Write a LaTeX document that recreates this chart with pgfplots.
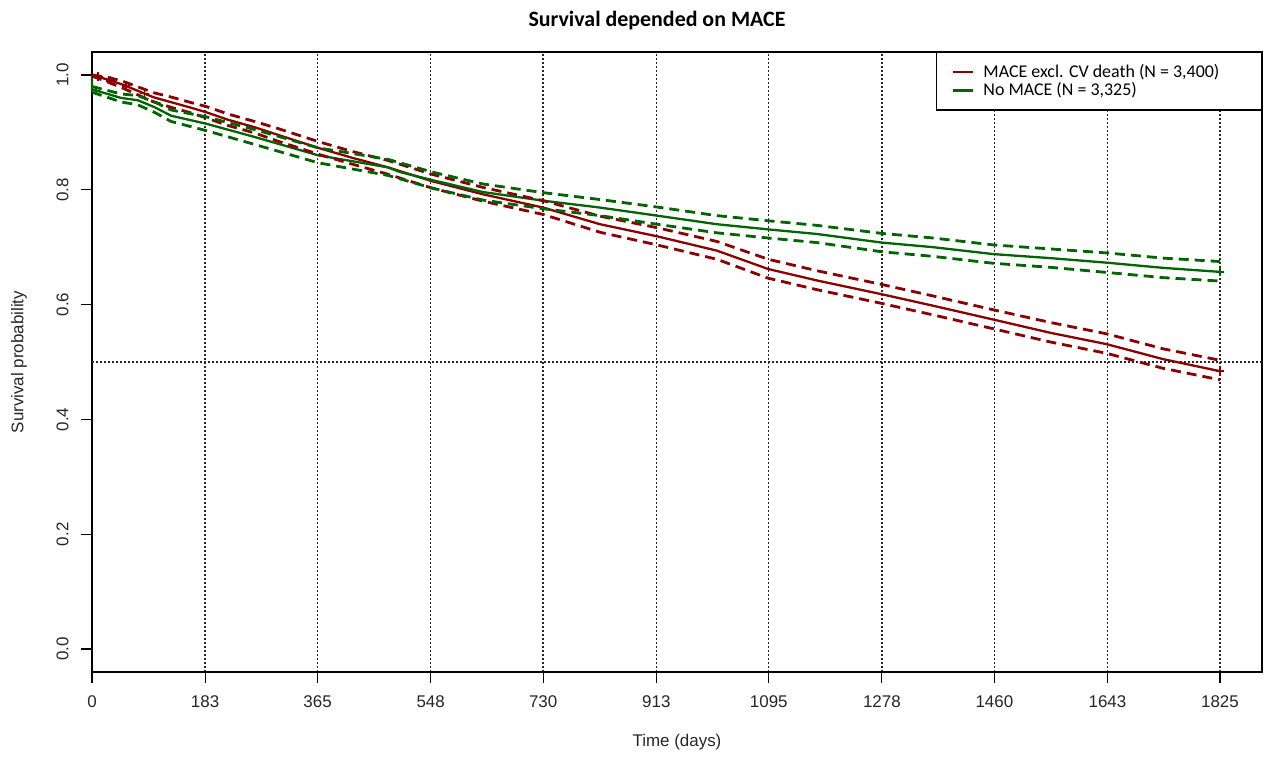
\documentclass[border=0pt]{standalone}
\usepackage{fontspec}
\setmainfont{Liberation Sans}
\newfontfamily\calibri{Carlito}
\usepackage{pgfplots}
\pgfplotsset{compat=1.18}

\definecolor{kmred}{HTML}{8B0000}
\definecolor{kmgreen}{HTML}{006400}

\begin{document}
\begin{tikzpicture}
\begin{axis}[
    name=ax,
    scale only axis,
    width=585bp, height=310bp,
    xmin=0, xmax=1893, ymin=-0.04, ymax=1.04,
    xtick={0,183,365,548,730,913,1095,1278,1460,1643,1825},
    xticklabels={0,183,365,548,730,913,1095,1278,1460,1643,1825},
    ytick={0,0.2,0.4,0.6,0.8,1.0},
    yticklabels={0.0,0.2,0.4,0.6,0.8,1.0},
    xtick pos=bottom, ytick pos=left,
    tick align=outside,
    major tick length=5.5bp,
    tick style={black, line width=0.6bp},
    axis line style={line width=0.6bp},
    ticklabel style={font=\fontsize{8.5}{10}\selectfont, text=black!85},
    xticklabel style={anchor=north, inner sep=0pt},
    xticklabel shift=6bp,
    yticklabel style={rotate=90, anchor=south, inner sep=0pt},
    yticklabel shift=6bp,
    xmajorgrids,
    major grid style={black!85, line width=0.7bp, dash pattern=on 0.8bp off 1.2bp},
    xlabel={Time (days)},
    ylabel={Survival probability},
    label style={font=\fontsize{8.5}{10}\selectfont, text=black!85},
    xlabel style={at={(axis description cs:0.5,-0.1129)}, anchor=center},
    ylabel style={at={(axis description cs:-0.0624,0.5)}, anchor=center},
    title={Survival depended on MACE},
    every axis title shift=0pt,
    title style={at={(axis description cs:0.4829,1.0500)}, anchor=center,
                 font=\calibri\bfseries\fontsize{11}{13}\selectfont},
    legend cell align=left,
    legend style={at={(1,1)}, anchor=north east, draw=black, line width=0.6bp,
                  font=\calibri\fontsize{9}{10.3}\selectfont,
                  inner xsep=8bp, inner ysep=5.1bp,
                  nodes={inner xsep=0pt, inner ysep=0.6bp},
                  /tikz/every odd column/.append style={column sep=4.5bp}},
    legend image code/.code={\draw[#1, solid] (0bp,0bp) -- (10bp,0bp);},
    clip=false,
]
% median reference line
\addplot[forget plot, black!85, line width=0.7bp, dash pattern=on 0.8bp off 1.2bp]
  coordinates {(0,0.5)(1893,0.5)};

% MACE excl. CV death
\addplot[kmred, line width=1.15bp] coordinates {
(0,1.000)(25,0.992)(50,0.983)(75,0.972)(100,0.961)(130,0.952)(160,0.943)(185,0.935)
(220,0.922)(263,0.909)(300,0.896)(366,0.873)(420,0.856)(479,0.839)(550,0.815)(633,0.792)
(730,0.769)(822,0.740)(914,0.719)(1011,0.694)(1094,0.662)(1173,0.642)(1278,0.618)
(1361,0.598)(1458,0.574)(1550,0.551)(1642,0.531)(1733,0.505)(1825,0.484)};
\addlegendentry{MACE excl. CV death (N = 3,400)\hspace*{13bp}}

% No MACE
\addplot[kmgreen, line width=1.15bp] coordinates {
(0,1.000)(0,0.975)(25,0.967)(47,0.960)(74,0.956)(101,0.944)(128,0.929)(185,0.915)
(263,0.892)(366,0.860)(420,0.850)(479,0.839)(498,0.831)(550,0.817)(633,0.796)(730,0.781)
(822,0.769)(914,0.755)(1011,0.740)(1094,0.731)(1173,0.723)(1278,0.708)(1361,0.700)
(1458,0.688)(1550,0.681)(1642,0.673)(1733,0.664)(1825,0.657)};
\addlegendentry{No MACE (N = 3,325)}

% confidence bands
\addplot[forget plot, kmred, line width=1.4bp, dash pattern=on 5bp off 3bp] coordinates {
(0,1.000)(25,0.996)(50,0.989)(75,0.979)(100,0.969)(130,0.961)(160,0.952)(185,0.945)
(220,0.932)(263,0.919)(300,0.907)(366,0.884)(420,0.867)(479,0.851)(550,0.827)(633,0.804)
(730,0.781)(822,0.754)(914,0.734)(1011,0.710)(1094,0.679)(1173,0.659)(1278,0.635)
(1361,0.615)(1458,0.591)(1550,0.569)(1642,0.549)(1733,0.523)(1825,0.503)};
\addplot[forget plot, kmred, line width=1.4bp, dash pattern=on 5bp off 3bp] coordinates {
(0,0.998)(25,0.988)(50,0.977)(75,0.965)(100,0.953)(130,0.943)(160,0.934)(185,0.925)
(220,0.912)(263,0.899)(300,0.885)(366,0.862)(420,0.845)(479,0.827)(550,0.803)(633,0.780)
(730,0.757)(822,0.726)(914,0.704)(1011,0.679)(1094,0.646)(1173,0.626)(1278,0.602)
(1361,0.582)(1458,0.558)(1550,0.535)(1642,0.515)(1733,0.489)(1825,0.469)};
\addplot[forget plot, kmgreen, line width=1.4bp, dash pattern=on 5bp off 3bp] coordinates {
(0,0.980)(25,0.973)(47,0.967)(74,0.964)(101,0.953)(128,0.939)(185,0.927)(263,0.905)
(366,0.873)(479,0.853)(550,0.831)(633,0.810)(730,0.795)(822,0.783)(914,0.770)(1011,0.755)
(1094,0.746)(1173,0.738)(1278,0.724)(1361,0.716)(1458,0.704)(1550,0.697)(1642,0.690)
(1733,0.681)(1825,0.675)};
\addplot[forget plot, kmgreen, line width=1.4bp, dash pattern=on 5bp off 3bp] coordinates {
(0,0.970)(25,0.961)(47,0.953)(74,0.948)(101,0.935)(128,0.919)(185,0.903)(263,0.879)
(366,0.847)(479,0.825)(550,0.803)(633,0.782)(730,0.767)(822,0.755)(914,0.740)(1011,0.725)
(1094,0.716)(1173,0.708)(1278,0.692)(1361,0.684)(1458,0.672)(1550,0.665)(1642,0.656)
(1733,0.647)(1825,0.641)};

% censoring marks
\addplot[forget plot, kmred, only marks, mark=+, mark size=2.2bp, line width=0.8bp]
  coordinates {(10,0.997)(30,0.990)(55,0.981)(85,0.968)(1825,0.484)};
\addplot[forget plot, kmgreen, only marks, mark=+, mark size=2.2bp, line width=0.8bp]
  coordinates {(6,0.973)(1825,0.657)};
\end{axis}
\path ([shift={(-46bp,-39.5bp)}]ax.south west) rectangle ([shift={(1bp,26bp)}]ax.north east);
\end{tikzpicture}
\end{document}
